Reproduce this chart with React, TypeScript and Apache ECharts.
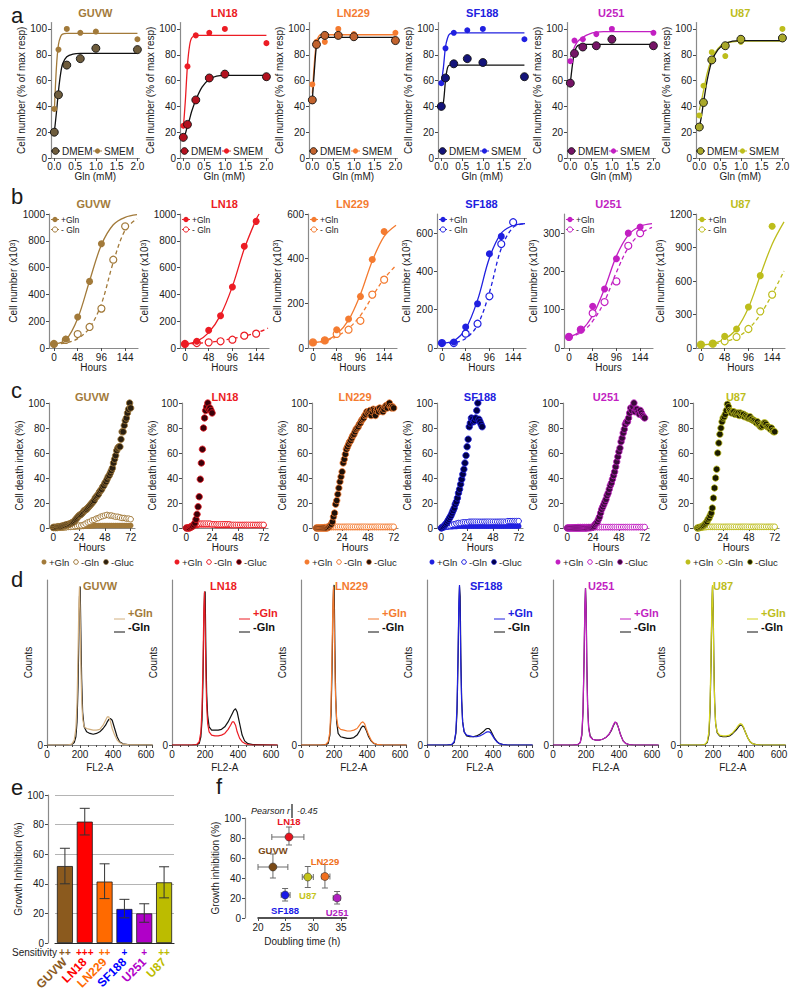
import React, { useEffect, useRef } from 'react';
import * as echarts from 'echarts';

const FONT = '"Liberation Sans", Arial, Helvetica, sans-serif';

// ---------- shared ----------
const cellLines = ['GUVW', 'LN18', 'LN229', 'SF188', 'U251', 'U87'];
const mainColors = ['#a27a3a', '#ec1c24', '#f47b30', '#2020e0', '#c21fc2', '#bdbd1c'];
const darkFillA = ['#6e5c3c', '#b3121f', '#c2632e', '#14147a', '#751466', '#a9a82a'];
const glucFill = ['#2a1f10', '#3c0008', '#1e1008', '#000048', '#3a0a3a', '#1c1c00'];
const histColors = ['#d2b080', '#ec1c24', '#f47b30', '#2020e0', '#c21fc2', '#d4d41c'];
const barColors = ['#8b5a1e', '#ff0000', '#ff6a00', '#0000ff', '#b000c8', '#bcbc00'];
const fColors = ['#7a4a16', '#e8141e', '#f07020', '#1a1ae6', '#b020c0', '#c4c41a'];
const sensitivity = ['++', '+++', '++', '+', '+', '++'];

// ---------- panel a ----------
const glnMM = [0, 0.1, 0.3, 0.625, 1, 2];
const aDMEM = [
  [20, 49, 72, 77, 85, 84],
  [16, 26, 45, 62, 65, 63],
  [45, 88, 95, 95, 94, 91],
  [40, 62, 73, 77, 74, 63],
  [58, 81, 86, 87, 92, 87],
  [24, 43, 76, 87, 92, 93],
];
const aSMEM = [
  [38, 84, 100, 97, 98, 92],
  [25, 71, 95, 97, 100, 89],
  [57, 90, 90, 100, 96, 97],
  [58, 85, 97, 99, 100, 92],
  [75, 91, 92, 96, 100, 97],
  [33, 56, 82, 79, 90, 100],
];
const aFitX = [0, 0.05, 0.1, 0.15, 0.2, 0.3, 0.45, 0.625, 0.8, 1, 1.5, 2];
const aFitDMEM = [
  [20, 35, 52, 65, 73, 78.5, 80.5, 81, 81, 81, 81, 81],
  [15, 19, 25, 30, 36, 45, 55, 61, 63.5, 64, 64, 64],
  [45, 68, 87, 92, 93.5, 93.5, 93.5, 93.5, 93.5, 93.5, 93.5, 93.5],
  [40, 43, 60, 70, 72, 72, 72, 72, 72, 72, 72, 72],
  [58, 72, 82, 86, 87.5, 88, 88, 88, 88, 88, 88, 88],
  [24, 32, 43, 53, 62, 75, 84, 88.5, 90.5, 91, 91, 91],
];
const aFitSMEM = [
  [36, 70, 88, 94, 96, 96.5, 96.5, 96.5, 96.5, 96.5, 96.5, 96.5],
  [23, 45, 72, 87, 93, 95, 95, 95, 95, 95, 95, 95],
  [50, 74, 90, 94, 95.5, 95.5, 95.5, 95.5, 95.5, 95.5, 95.5, 95.5],
  [58, 70, 86, 93, 96, 97, 97, 97, 97, 97, 97, 97],
  [78, 82, 86, 89, 91, 93.5, 96, 97.5, 98, 98, 98, 98],
  [37, 44, 52, 60, 67, 77, 85, 89, 90, 90.5, 90.5, 90.5],
];
const aXTicks = [0, 0.5, 1, 1.5, 2];
const aYTicks = [0, 20, 40, 60, 80, 100];

// ---------- panel b ----------
const hoursB = [0, 24, 48, 72, 96, 120, 144];
const bPlus = [
  [30, 67, 231, 497, 778, null, null],
  [30, 50, 132, 241, 455, 759, 945],
  [25, 34, 82, 130, 231, 396, 522],
  [26, 31, 110, 231, 492, 583, null],
  [29, 48, 109, 154, 233, 300, 316],
  [30, 39, 104, 170, 367, 648, 1090],
];
const bMinus = [
  [30, 60, 104, 157, 294, 659, 908],
  [30, 37, 42, 50, 62, 92, 107],
  [25, 34, 63, 82, 122, 239, 306],
  [26, 26, 75, 127, 270, 543, 657],
  [29, 48, 91, 120, 174, 267, 300],
  [30, 39, 60, 99, 170, 328, 478],
];
const bFitPlus = [
  [[0, 30], [24, 60], [48, 220], [72, 500], [96, 770], [120, 920], [144, 975], [168, 995]],
  [[0, 28], [24, 50], [48, 115], [72, 245], [96, 460], [120, 740], [144, 960], [150, 1000]],
  [[0, 25], [24, 32], [48, 62], [72, 125], [96, 240], [120, 390], [144, 500], [168, 550]],
  [[0, 25], [24, 38], [48, 100], [72, 250], [96, 470], [120, 600], [144, 640], [168, 650]],
  [[0, 28], [24, 45], [48, 85], [72, 155], [96, 240], [120, 295], [144, 318], [168, 325]],
  [[0, 28], [24, 40], [48, 80], [72, 170], [96, 360], [120, 650], [144, 930], [168, 1130]],
];
const bFitMinus = [
  [[0, 30], [24, 38], [48, 70], [72, 150], [96, 330], [120, 640], [144, 880], [168, 965]],
  [[0, 28], [48, 42], [96, 70], [144, 112], [168, 148]],
  [[0, 25], [24, 31], [48, 52], [72, 88], [96, 145], [120, 230], [144, 310], [168, 370]],
  [[0, 25], [24, 28], [48, 50], [72, 120], [96, 290], [120, 520], [144, 630], [168, 650]],
  [[0, 28], [24, 40], [48, 70], [72, 122], [96, 198], [120, 262], [144, 298], [168, 315]],
  [[0, 28], [24, 35], [48, 55], [72, 95], [96, 170], [120, 300], [144, 480], [168, 690]],
];
const bXTicks = [0, 48, 96, 144];
const bYMax = [1000, 1000, 600, 700, 350, 1200];
const bYTicks = [
  [0, 200, 400, 600, 800, 1000],
  [0, 200, 400, 600, 800, 1000],
  [0, 200, 400, 600],
  [0, 200, 400, 600],
  [0, 100, 200, 300],
  [0, 300, 600, 900, 1200],
];

// ---------- panel c ----------
const cGlucStep = 1; // hours between -Gluc readings
const cGlnStep = 2; // hours between +Gln / -Gln readings
const cGlucGUVW = [
  0.5, 0.5, 0.5, 0.5, 1, 1, 1, 1, 1.5, 1.5,
  2, 2, 2.5, 2.5, 3, 3, 3.5, 4, 4.5, 5,
  6, 7, 8, 9, 10, 10.5, 11, 12, 13, 14,
  14.5, 15, 16, 17, 18, 19, 20, 21, 22, 24,
  25, 26, 27, 29, 30, 31, 33, 34, 36, 37,
  39, 41, 42, 44, 46, 48, 52, 55, 58, 62,
  64, 65, 65, 71, 77, 77, 82, 86, 88, 92,
  95, 100, 96,
];
const cGlucLN18 = [0, 0, 0, 0, 0.5, 1, 1.5, 2.5, 4, 7, 11, 17, 25, 39, 52, 63, 80, 88, 94, 97, 100, 95, 96, 94, 92];
const cGlucLN229 = [
  0, 0, 0, 0, 0, 0, 0, 0, 0, 0, 0, 0.5,
  1, 2, 3, 5, 9, 12, 19, 22, 27, 32,
  37, 41, 45, 52, 55, 59, 63, 65, 67, 69,
  70, 72, 74, 75, 77, 79, 80, 81, 83, 84,
  86, 87, 88, 90, 91, 93, 92, 93, 94, 90,
  93, 95, 94, 90, 94, 95, 93, 96, 94, 95,
  93, 95, 97, 98, 96, 99, 100, 97, 96, 97,
  96,
];
const cGlucSF188 = [
  0, 0.5, 1, 2, 3, 4, 5.5, 7, 8.5, 10,
  12, 14, 16, 19, 21, 24, 28, 31, 35, 39,
  43, 47, 52, 58, 65, 71, 81, 84, 88, 87,
  85, 86, 88, 94, 100, 87, 85, 83, 81,
];
const cGlucU251 = [
  0, 0, 0, 0, 0, 0, 0, 0, 0, 0, 0, 0, 0, 0, 0, 0, 0, 0, 0, 0.2, 0.2, 0.3, 0.3, 0.5,
  0.8, 1.5, 3, 4, 5, 7, 9, 12, 15, 17,
  19, 21, 23, 26, 28, 31, 34, 36, 39, 42,
  45, 49, 53, 57, 61, 64, 69, 72, 76, 79,
  83, 85, 85, 88, 92, 96, 94, 97, 100, 93,
  95, 95, 93, 91, 94, 92, 90, 89, 88,
];
const cGlucU87 = [
  0, 0, 0.5, 0.5, 1, 1.5, 2, 3, 4, 5,
  7, 8, 10, 12, 16, 24, 32, 40, 47, 60,
  68, 75, 80, 85, 88, 89, 91, 94, 99, 97,
  94, 93, 92, 93, 93, 91, 92, 91, 92, 90,
  92, 91, 90, 91, 89, 90, 89, 88, 88, 89,
  87, 87, 86, 86, 85, 84, 85, 83, 82, 81,
  81, 82, 84, 84, 83, 81, 81, 80, 79, 80,
  78, 77, 77,
];
const cGluc = [cGlucGUVW, cGlucLN18, cGlucLN229, cGlucSF188, cGlucU251, cGlucU87];
const cPlus = [
  [0, 0, 0, 0, 0, 0.2, 0.3, 0.5, 0.5, 0.7, 0.8, 1, 1, 1.2, 1.3, 1.5, 1.5, 1.5, 1.7, 1.8, 2, 2, 2, 2, 2, 2, 2, 2, 2, 2, 2, 2, 2, 2, 2, 2, 2],
  [0, 0.5, 1, 1.5, 2, 2, 2.5, 2.5, 2.5, 2.5, 2.5, 2.5, 2.5, 2.5, 2, 2, 2, 2, 2, 2, 2, 2, 2, 2, 2, 2, 2, 2, 2, 2, 2, 2, 2, 2, 2, 2, 2],
  [0, 0, 0, 0.2, 0.2, 0.3, 0.3, 0.3, 0.3, 0.3, 0.3, 0.3, 0.3, 0.3, 0.3, 0.3, 0.3, 0.3, 0.3, 0.3, 0.3, 0.3, 0.3, 0.3, 0.3, 0.3, 0.3, 0.3, 0.3, 0.3, 0.3, 0.3, 0.3, 0.3, 0.3, 0.3, 0.3],
  [0, 0.3, 0.5, 0.8, 1, 1, 1.2, 1.2, 1.5, 1.5, 1.5, 1.5, 1.5, 1.5, 1.5, 1.5, 1.5, 1.5, 1.5, 1.5, 1.5, 1.5, 1.5, 1.5, 1.5, 1.5, 1.5, 1.5, 1.5, 1.5, 1.5, 1.5, 1.5, 1.5, 1.5, 1.5, 1.5],
  [0, 0, 0, 0.2, 0.2, 0.3, 0.3, 0.3, 0.3, 0.3, 0.3, 0.3, 0.3, 0.3, 0.3, 0.3, 0.3, 0.3, 0.3, 0.3, 0.3, 0.3, 0.3, 0.3, 0.3, 0.3, 0.3, 0.3, 0.3, 0.3, 0.3, 0.3, 0.3, 0.3, 0.3, 0.3, 0.3],
  [0, 0, 0.2, 0.3, 0.4, 0.5, 0.5, 0.5, 0.5, 0.5, 0.5, 0.5, 0.5, 0.5, 0.5, 0.5, 0.5, 0.5, 0.5, 0.5, 0.5, 0.5, 0.5, 0.5, 0.5, 0.5, 0.5, 0.5, 0.5, 0.5, 0.5, 0.5, 0.5, 0.5, 0.5, 0.5, 0.5],
];
const cMinus = [
  [0, 0, 0, 0.2, 0.3, 0.5, 0.7, 1, 1, 1.2, 1.5, 1.7, 2, 2, 2.5, 3.5, 4.5, 5, 6, 6.5, 7.5, 8, 9, 9.5, 10, 10.5, 10, 10, 9.5, 9, 9, 8.5, 8, 8, 7.5, 7.5, 7],
  [0, 0.5, 1.5, 2.5, 3, 3.5, 3.5, 3.5, 3.5, 3.5, 3.5, 3.5, 3, 3, 3, 3, 3, 3, 3, 3, 3, 2.5, 2.5, 2.5, 2.5, 2.5, 2.5, 2.5, 2.5, 2.5, 2.5, 2.5, 2.5, 2.5, 2.5, 2.5, 2.5],
  [0, 0, 0.2, 0.5, 0.8, 1, 1, 1, 1, 1, 1, 1, 1, 1, 1, 1, 1, 1, 1, 1, 1, 1, 1, 1, 1, 1, 1, 1, 1, 1, 1, 1, 1, 1, 1, 1, 1],
  [0, 0.5, 1, 1.5, 2, 2.5, 3, 3.5, 4, 4, 4.5, 4.5, 4.5, 5, 5, 5, 5, 5, 5, 5, 5, 5, 5, 5, 5, 5, 5, 5, 5, 5, 5, 5.5, 5.5, 5.5, 5.5, 5.5, 5.5],
  [0, 0, 0.2, 0.4, 0.6, 0.8, 0.8, 0.8, 0.8, 0.8, 0.8, 0.8, 0.8, 0.8, 0.8, 0.8, 0.8, 0.8, 0.8, 0.8, 0.8, 0.8, 0.8, 0.8, 0.8, 0.8, 0.8, 0.8, 0.8, 0.8, 0.8, 0.8, 0.8, 0.8, 0.8, 0.8, 0.8],
  [0, 0, 0.3, 0.6, 0.8, 1, 1, 1, 1, 1, 1, 1, 1, 1, 1, 1, 1, 1, 1, 1, 1, 1, 1, 1, 1, 1, 1, 1, 1, 1, 1, 1, 1, 1, 1, 1, 1],
];
const cXTicks = [0, 24, 48, 72];
const cYTicks = [0, 20, 40, 60, 80, 100];

// ---------- panel d ----------
const dFL2 = [0, 120, 150, 165, 175, 182, 188, 193, 197, 201, 205, 210, 216, 225, 240, 260, 280, 300, 320, 340, 355, 365, 375, 385, 395, 410, 425, 440, 460, 490, 640];
const dPlus = [
  [0, 0, 0.5, 3, 10, 25, 55, 85, 96, 80, 50, 28, 16, 11, 10, 9.5, 9, 9, 9.5, 12, 15, 17, 17, 14, 10, 6, 3, 1.5, 0.5, 0.2, 0],
  [0, 0, 0.3, 2, 8, 22, 50, 82, 93, 75, 45, 24, 13, 8, 6, 5.5, 5.5, 6, 7, 9.5, 12, 14, 14, 12, 8, 4, 2, 1, 0.3, 0, 0],
  [0, 0, 0.3, 2, 8, 24, 55, 85, 96, 78, 48, 27, 16, 11, 9.5, 9, 8.5, 8.5, 9, 10, 12, 13.5, 14, 13, 10, 6, 3, 1.2, 0.4, 0.1, 0],
  [0, 0, 0.3, 2, 8, 24, 55, 86, 97, 80, 48, 26, 14, 8, 6, 5.5, 5, 5, 5.5, 6.5, 7.5, 8, 8, 7.5, 6, 3.5, 1.8, 0.8, 0.3, 0, 0],
  [0, 0, 0.2, 1.5, 7, 22, 52, 84, 95, 80, 46, 22, 10, 5, 3.5, 3, 3, 3.5, 4.5, 6.5, 9.5, 12, 14, 13.5, 11, 6, 2.5, 1, 0.3, 0, 0],
  [0, 0, 0.3, 2, 8, 24, 55, 86, 97, 80, 48, 25, 13, 8, 6, 5.5, 5.5, 6, 7.5, 10, 12, 13, 12.5, 11, 8, 4.5, 2, 0.8, 0.3, 0, 0],
];
const dMinus = [
  [0, 0, 0.3, 1.5, 5, 14, 35, 65, 90, 96, 70, 40, 20, 11, 8, 7, 6.5, 7, 8, 10, 12, 14, 15.5, 16, 15, 10, 5, 2, 0.7, 0.2, 0],
  [0, 0, 0.2, 1, 5, 15, 40, 75, 92, 93, 60, 32, 18, 11, 9, 9, 9, 9.5, 11, 14, 17, 19, 21, 22, 20, 13, 6, 2.5, 0.8, 0.2, 0],
  [0, 0, 0.2, 1, 6, 18, 45, 78, 94, 97, 62, 30, 14, 7, 5, 4.5, 4, 4, 4.5, 6, 8.5, 10.5, 11.5, 11, 9, 5, 2.5, 1, 0.3, 0, 0],
  [0, 0, 0.2, 1.5, 7, 20, 50, 82, 96, 90, 55, 28, 14, 8, 5.5, 5, 5, 5.5, 6.5, 8, 9.5, 10, 10, 9, 7, 4, 2, 0.8, 0.3, 0, 0],
  [0, 0, 0.2, 1.5, 6, 20, 50, 82, 95, 84, 50, 24, 11, 5.5, 3.5, 3, 3, 3.5, 4.5, 6.5, 9, 11.5, 13.5, 13.5, 11, 6, 2.5, 1, 0.3, 0, 0],
  [0, 0, 0.2, 1.5, 6, 20, 50, 82, 96, 84, 52, 26, 13, 7.5, 5.5, 5, 5, 5.5, 7, 9, 11, 12, 12, 10.5, 8, 4.5, 2, 0.8, 0.3, 0, 0],
];
const dXLabels = [0, 200, 400, 600];

// ---------- panel e ----------
const eInhibition = [52, 82, 41.5, 23, 20, 41];
const eErrLow = [40, 73, 30, 17, 14, 30.5];
const eErrHigh = [64, 91, 53.5, 29.5, 26.5, 51.5];

// ---------- panel f ----------
const fDoubling = [22.7, 25.6, 32.1, 24.9, 34.3, 29.0];
const fInhibition = [51, 81, 41.5, 23, 20, 41];
const fDtLow = [20, 22.5, 31.5, 24.2, 33.6, 28.0];
const fDtHigh = [25.4, 28.3, 33.0, 25.8, 34.9, 30.0];
const fGiLow = [40, 73, 30, 17, 14, 30.5];
const fGiHigh = [64, 91, 53.5, 29.5, 26.5, 51.5];
const fXTicks = [20, 25, 30, 35];
const pearsonR = '-0.45';

// ---------- layout ----------
const rowA = { top: 22.5, height: 135.5, width: 88.5, lefts: [51, 180, 309, 438, 567, 696] };
const rowB = { top: 214, height: 134, width: 89, lefts: [49, 180, 308, 437, 564, 696] };
const rowC = { top: 403, height: 125, width: 86, lefts: [49, 182, 312, 437, 563, 693] };
const rowD = { top: 580, height: 165, width: 105.6, lefts: [47, 172, 301, 427, 553, 680] };
const dTitleOffsets = [36, 38, 34, 43, 35, 33];
const fLabelPos = ['top', 'top', 'top', 'bottom', 'bottom', 'bottom'];
const fLabelDist = [7, 6, 6, 6, 5, 9];

type AxisP = {
  gridIndex: number; min: number; max: number; ticks?: number[]; labels?: number[];
  fmt?: (v: number) => string; name?: string; nameGap?: number; vertical?: boolean;
  offset?: number; margin?: number; interval?: number; minor?: boolean;
  lineColor?: string; lineWidth?: number; rich?: any; showTicks?: boolean;
};

function mkAxis(p: AxisP): any {
  const fmt = p.fmt ?? ((v: number) => String(v));
  const ax: any = {
    type: 'value', gridIndex: p.gridIndex, min: p.min, max: p.max, offset: p.offset ?? 0,
    axisLine: { show: true, onZero: false, lineStyle: { color: p.lineColor ?? '#8a8a8a', width: p.lineWidth ?? 1.2 } },
    axisTick: { show: p.showTicks ?? true, length: 3, lineStyle: { color: '#4a4a4a', width: 1 } },
    axisLabel: {
      show: true, fontSize: 10, color: '#1a1a1a', fontFamily: FONT, margin: p.margin ?? 4, hideOverlap: false,
      formatter: (v: number) => fmt(v),
    },
    splitLine: { show: false },
    name: p.name ?? '', nameLocation: 'middle', nameGap: p.nameGap ?? 12, nameRotate: p.vertical ? 90 : 0,
    nameTextStyle: { fontSize: 10, color: '#1a1a1a', fontFamily: FONT },
  };
  if (p.ticks) ax.axisTick.customValues = p.ticks;
  if (p.labels ?? p.ticks) ax.axisLabel.customValues = p.labels ?? p.ticks;
  if (p.interval) ax.interval = p.interval;
  if (p.minor) ax.minorTick = { show: true, splitNumber: 4, length: 2, lineStyle: { color: '#4a4a4a' } };
  if (p.rich) ax.nameTextStyle.rich = p.rich;
  return ax;
}

const txt = (x: number, y: number, text: string, o: any = {}) => ({
  type: 'text', x, y, silent: true, z: 100,
  style: {
    text, fontFamily: FONT, fontSize: o.size ?? 10, fontWeight: o.weight ?? 'normal',
    fontStyle: o.style ?? 'normal', fill: o.color ?? '#1a1a1a',
    align: o.align ?? 'left', verticalAlign: o.va ?? 'middle',
  },
});
const circ = (cx: number, cy: number, r: number, fill: string, stroke?: string, lw?: number) => ({
  type: 'circle', shape: { cx, cy, r }, silent: true, z: 100,
  style: { fill, stroke: stroke ?? 'none', lineWidth: lw ?? 1 },
});
const seg = (x1: number, y1: number, x2: number, y2: number, stroke: string, lw = 1) => ({
  type: 'line', shape: { x1, y1, x2, y2 }, silent: true, z: 100,
  style: { stroke, lineWidth: lw },
});

function buildOption(): any {
  const grid: any[] = [];
  const xAxis: any[] = [];
  const yAxis: any[] = [];
  const series: any[] = [];
  const els: any[] = [];
  const addGrid = (left: number, top: number, width: number, height: number) => {
    grid.push({ left, top, width, height, containLabel: false, outerBoundsMode: 'none' });
    return grid.length - 1;
  };
  const addX = (a: any) => { xAxis.push(a); return xAxis.length - 1; };
  const addY = (a: any) => { yAxis.push(a); return yAxis.length - 1; };

  // panel letters
  els.push(txt(11, 15, 'a', { size: 22 }));
  els.push(txt(11, 196, 'b', { size: 22 }));
  els.push(txt(11, 390, 'c', { size: 22 }));
  els.push(txt(11, 579, 'd', { size: 22 }));
  els.push(txt(11, 787, 'e', { size: 22 }));
  els.push(txt(216, 786, 'f', { size: 22 }));

  // ---------- row a ----------
  cellLines.forEach((cl, i) => {
    const L = rowA.lefts[i];
    const g = addGrid(L, rowA.top, rowA.width, rowA.height);
    const xi = addX(mkAxis({ gridIndex: g, min: -0.08, max: 2.05, ticks: aXTicks, fmt: (v) => v.toFixed(1), name: 'Gln (mM)', nameGap: 12, margin: 3 }));
    const yi = addY(mkAxis({ gridIndex: g, min: 0, max: 105, ticks: aYTicks, name: 'Cell number (% of max resp)', nameGap: 21, vertical: true }));
    const base = { xAxisIndex: xi, yAxisIndex: yi, silent: true };
    series.push({ ...base, type: 'line', data: aFitX.map((x, j) => [x, aFitSMEM[i][j]]), symbol: 'none', smooth: 0.3, lineStyle: { color: mainColors[i], width: 1.3 }, z: 2 });
    series.push({ ...base, type: 'line', data: aFitX.map((x, j) => [x, aFitDMEM[i][j]]), symbol: 'none', smooth: 0.3, lineStyle: { color: '#111', width: 1.3 }, z: 3 });
    series.push({ ...base, type: 'scatter', data: glnMM.map((x, j) => [x, aSMEM[i][j]]), symbol: 'circle', symbolSize: 6, itemStyle: { color: mainColors[i], opacity: 1 }, z: 4 });
    series.push({ ...base, type: 'scatter', data: glnMM.map((x, j) => [x, aDMEM[i][j]]), symbol: 'circle', symbolSize: 8, itemStyle: { color: darkFillA[i], borderColor: '#111', borderWidth: 0.9, opacity: 1 }, z: 5 });
    els.push(txt(L + rowA.width / 2, 13, cl, { size: 11, weight: 'bold', color: mainColors[i], align: 'center' }));
    const ly = 151;
    els.push(seg(L + 0, ly, L + 9, ly, '#111', 1));
    els.push(circ(L + 4.5, ly, 3.4, darkFillA[i], '#111', 0.8));
    els.push(txt(L + 11, ly, 'DMEM', { size: 10 }));
    els.push(seg(L + 42, ly, L + 51, ly, mainColors[i], 1));
    els.push(circ(L + 46.5, ly, 2.6, mainColors[i]));
    els.push(txt(L + 53, ly, 'SMEM', { size: 10 }));
  });

  // ---------- row b ----------
  cellLines.forEach((cl, i) => {
    const L = rowB.lefts[i];
    const g = addGrid(L, rowB.top, rowB.width, rowB.height);
    const xi = addX(mkAxis({ gridIndex: g, min: -10, max: 170, ticks: bXTicks, name: 'Hours', nameGap: 14 }));
    const yi = addY(mkAxis({
      gridIndex: g, min: 0, max: bYMax[i], ticks: bYTicks[i], name: 'Cell number (x10{sup|3})', nameGap: 26, vertical: true,
      rich: { sup: { fontSize: 7, verticalAlign: 'top', fontFamily: FONT, color: '#1a1a1a' } },
    }));
    const base = { xAxisIndex: xi, yAxisIndex: yi, silent: true };
    series.push({ ...base, type: 'line', data: bFitMinus[i], symbol: 'none', smooth: 0.35, lineStyle: { color: mainColors[i], width: 1.3, type: [4, 3] }, z: 2 });
    series.push({ ...base, type: 'line', data: bFitPlus[i], symbol: 'none', smooth: 0.35, lineStyle: { color: mainColors[i], width: 1.3 }, z: 3 });
    series.push({ ...base, type: 'scatter', data: hoursB.map((h, j) => [h, bMinus[i][j]]).filter((d) => d[1] != null), symbol: 'circle', symbolSize: 7, itemStyle: { color: '#ffffff', borderColor: mainColors[i], borderWidth: 1.2, opacity: 1 }, z: 4 });
    series.push({ ...base, type: 'scatter', data: hoursB.map((h, j) => [h, bPlus[i][j]]).filter((d) => d[1] != null), symbol: 'circle', symbolSize: 7, itemStyle: { color: mainColors[i], opacity: 1 }, z: 5 });
    els.push(txt(L + rowB.width / 2, 204, cl, { size: 11, weight: 'bold', color: mainColors[i], align: 'center' }));
    els.push(seg(L + 2, 219.5, L + 10, 219.5, mainColors[i], 1));
    els.push(circ(L + 6, 219.5, 2.7, mainColors[i]));
    els.push(txt(L + 12, 219.5, '+Gln', { size: 8.5 }));
    els.push(seg(L + 2, 229.5, L + 10, 229.5, mainColors[i], 1));
    els.push(circ(L + 6, 229.5, 2.6, '#ffffff', mainColors[i], 1));
    els.push(txt(L + 12, 229.5, '- Gln', { size: 8.5 }));
  });

  // ---------- row c ----------
  cellLines.forEach((cl, i) => {
    const L = rowC.lefts[i];
    const g = addGrid(L, rowC.top, rowC.width, rowC.height);
    const xi = addX(mkAxis({ gridIndex: g, min: -4, max: 76, ticks: cXTicks, name: 'Hours', nameGap: 14 }));
    const yi = addY(mkAxis({ gridIndex: g, min: 0, max: 100, ticks: cYTicks, name: 'Cell death index (%)', nameGap: 22, vertical: true }));
    const base = { xAxisIndex: xi, yAxisIndex: yi, silent: true };
    series.push({ ...base, type: 'scatter', data: cPlus[i].map((v, j) => [j * cGlnStep, v]), symbol: 'circle', symbolSize: 5.5, itemStyle: { color: mainColors[i], opacity: 1 }, z: 2 });
    series.push({ ...base, type: 'scatter', data: cMinus[i].map((v, j) => [j * cGlnStep, v]), symbol: 'circle', symbolSize: 5.5, itemStyle: { color: '#ffffff', borderColor: mainColors[i], borderWidth: 1, opacity: 1 }, z: 3 });
    series.push({ ...base, type: 'scatter', data: cGluc[i].map((v, j) => [j * cGlucStep, v]), symbol: 'circle', symbolSize: 6.5, itemStyle: { color: glucFill[i], borderColor: mainColors[i], borderWidth: 0.8, opacity: 1 }, z: 4 });
    els.push(txt(L + rowC.width / 2, 397, cl, { size: 11, weight: 'bold', color: mainColors[i], align: 'center' }));
    const ly = 562;
    els.push(circ(L - 5, ly, 2.5, mainColors[i]));
    els.push(txt(L + 0, ly, '+Gln', { size: 9.5 }));
    els.push(circ(L + 27, ly, 2.3, '#ffffff', mainColors[i], 1));
    els.push(txt(L + 32, ly, '-Gln', { size: 9.5 }));
    els.push(circ(L + 57, ly, 2.5, glucFill[i], mainColors[i], 0.6));
    els.push(txt(L + 62, ly, '-Gluc', { size: 9.5 }));
  });

  // ---------- row d ----------
  cellLines.forEach((cl, i) => {
    const L = rowD.lefts[i];
    const g = addGrid(L, rowD.top, rowD.width, rowD.height);
    const xi = addX(mkAxis({ gridIndex: g, min: 0, max: 640, interval: 200, labels: dXLabels, minor: true, name: 'FL2-A', nameGap: 17 }));
    const yi = addY(mkAxis({ gridIndex: g, min: 0, max: 100, ticks: [0], name: 'Counts', nameGap: 4, vertical: true }));
    const base = { xAxisIndex: xi, yAxisIndex: yi, silent: true };
    series.push({ ...base, type: 'line', data: dFL2.map((x, j) => [x, dMinus[i][j]]), symbol: 'none', lineStyle: { color: '#111', width: 1.2 }, z: 2 });
    series.push({ ...base, type: 'line', data: dFL2.map((x, j) => [x, dPlus[i][j]]), symbol: 'none', lineStyle: { color: histColors[i], width: 1.2 }, z: 3 });
    els.push(txt(L + dTitleOffsets[i], 586, cl, { size: 11, weight: 'bold', color: mainColors[i] }));
    els.push(seg(L + 67, 619, L + 78, 619, histColors[i], 1));
    els.push(txt(L + 81, 613, '+Gln', { size: 11, weight: 'bold', color: mainColors[i] }));
    els.push(seg(L + 67, 632, L + 78, 632, '#111', 1));
    els.push(txt(L + 81, 627, '-Gln', { size: 11, weight: 'bold', color: '#111' }));
  });

  // ---------- panel e ----------
  const ge = addGrid(55, 795, 119, 148);
  const idxOf = (v: any) => cellLines.indexOf(String(v));
  const exMain = addX({
    type: 'category', gridIndex: ge, data: cellLines,
    axisLine: { show: true, onZero: false, lineStyle: { color: '#2a2a2a', width: 1.2 } },
    axisTick: { show: false }, axisLabel: { show: false }, splitLine: { show: false },
  });
  addX({
    type: 'category', gridIndex: ge, data: cellLines, position: 'bottom', offset: 4,
    axisLine: { show: false }, axisTick: { show: false }, splitLine: { show: false },
    axisLabel: {
      show: true, interval: 0, margin: 0, fontSize: 10, fontWeight: 'bold', fontFamily: FONT,
      formatter: (v: string) => sensitivity[idxOf(v)],
      color: (v: any) => barColors[idxOf(v)],
    },
  });
  addX({
    type: 'category', gridIndex: ge, data: cellLines, position: 'bottom', offset: 17,
    axisLine: { show: false }, axisTick: { show: false }, splitLine: { show: false },
    axisLabel: {
      show: true, interval: 0, margin: 0, rotate: 45, fontSize: 12, fontWeight: 'bold', fontFamily: FONT,
      color: (v: any) => barColors[idxOf(v)],
    },
  });
  els.push(txt(57, 952.5, 'Sensitivity', { size: 10, align: 'right' }));
  const eyAx = mkAxis({ gridIndex: ge, min: 0, max: 100, interval: 20, name: 'Growth Inhibition (%)', nameGap: 23, vertical: true, offset: 7 });
  eyAx.splitLine = { show: true, lineStyle: { color: '#b4b4b4', width: 1 } };
  const ey = addY(eyAx);
  series.push({
    type: 'bar', xAxisIndex: exMain, yAxisIndex: ey, barWidth: 16, silent: true, z: 2,
    data: eInhibition.map((v, k) => ({ value: v, itemStyle: { color: barColors[k], borderColor: '#1a1a1a', borderWidth: 0.8 } })),
  });
  series.push({
    type: 'custom', xAxisIndex: exMain, yAxisIndex: ey, silent: true, z: 5,
    data: eInhibition.map((_, k) => [k, eErrLow[k], eErrHigh[k]]),
    encode: { x: 0, y: [1, 2] },
    renderItem: (params: any, api: any) => {
      const x = api.value(0);
      const lo = api.coord([x, api.value(1)]);
      const hi = api.coord([x, api.value(2)]);
      const h = 5;
      const st = { stroke: '#333', lineWidth: 1 };
      return {
        type: 'group', children: [
          { type: 'line', shape: { x1: lo[0], y1: lo[1], x2: hi[0], y2: hi[1] }, style: st },
          { type: 'line', shape: { x1: lo[0] - h, y1: lo[1], x2: lo[0] + h, y2: lo[1] }, style: st },
          { type: 'line', shape: { x1: hi[0] - h, y1: hi[1], x2: hi[0] + h, y2: hi[1] }, style: st },
        ],
      };
    },
  });

  // ---------- panel f ----------
  const gf = addGrid(258, 818, 88.5, 100);
  const fx = addX(mkAxis({ gridIndex: gf, min: 20, max: 36, ticks: fXTicks, name: 'Doubling time (h)', nameGap: 18, lineColor: '#1a1a1a', lineWidth: 1.5 }));
  const fy = addY(mkAxis({ gridIndex: gf, min: 0, max: 100, interval: 20, name: 'Growth inhibition (%)', nameGap: 23, vertical: true, offset: 13, lineColor: '#8a8a8a' }));
  series.push({
    type: 'custom', xAxisIndex: fx, yAxisIndex: fy, silent: true, z: 3,
    data: fDoubling.map((d, k) => [d, fInhibition[k], fDtLow[k], fDtHigh[k], fGiLow[k], fGiHigh[k]]),
    encode: { x: [0, 2, 3], y: [1, 4, 5] },
    renderItem: (params: any, api: any) => {
      const c = api.coord([api.value(0), api.value(1)]);
      const xl = api.coord([api.value(2), api.value(1)]);
      const xh = api.coord([api.value(3), api.value(1)]);
      const yl = api.coord([api.value(0), api.value(4)]);
      const yh = api.coord([api.value(0), api.value(5)]);
      const st = { stroke: '#6a6a6a', lineWidth: 1 };
      const cap = 3;
      return {
        type: 'group', children: [
          { type: 'line', shape: { x1: xl[0], y1: c[1], x2: xh[0], y2: c[1] }, style: st },
          { type: 'line', shape: { x1: xl[0], y1: c[1] - cap, x2: xl[0], y2: c[1] + cap }, style: st },
          { type: 'line', shape: { x1: xh[0], y1: c[1] - cap, x2: xh[0], y2: c[1] + cap }, style: st },
          { type: 'line', shape: { x1: c[0], y1: yl[1], x2: c[0], y2: yh[1] }, style: st },
          { type: 'line', shape: { x1: c[0] - cap, y1: yl[1], x2: c[0] + cap, y2: yl[1] }, style: st },
          { type: 'line', shape: { x1: c[0] - cap, y1: yh[1], x2: c[0] + cap, y2: yh[1] }, style: st },
        ],
      };
    },
  });
  series.push({
    type: 'scatter', xAxisIndex: fx, yAxisIndex: fy, silent: true, z: 5, symbolSize: 8,
    data: fDoubling.map((d, k) => ({
      value: [d, fInhibition[k]],
      itemStyle: { color: fColors[k], borderColor: '#333', borderWidth: 0.6, opacity: 1 },
      label: {
        show: true, position: fLabelPos[k], distance: fLabelDist[k], formatter: cellLines[k],
        color: fColors[k], fontWeight: 'bold', fontSize: 9.5, fontFamily: FONT,
      },
    })),
  });
  els.push(txt(251, 811, 'Pearson r', { size: 9, style: 'italic' }));
  els.push(seg(292, 804, 292, 818, '#1a1a1a', 1.2));
  els.push(txt(297, 811, pearsonR, { size: 9, style: 'italic' }));

  return {
    animation: false,
    backgroundColor: '#ffffff',
    textStyle: { fontFamily: FONT },
    grid, xAxis, yAxis, series,
    graphic: { elements: els },
  };
}

export default function App() {
  const ref = useRef<HTMLDivElement>(null);
  useEffect(() => {
    document.body.style.margin = '0';
    document.body.style.overflow = 'hidden';
    const chart = echarts.init(ref.current!, undefined, { renderer: 'svg', width: 800, height: 991 });
    chart.setOption(buildOption());
    return () => chart.dispose();
  }, []);
  return <div ref={ref} style={{ position: 'absolute', left: 0, top: 0, width: 800, height: 991, background: '#fff' }} />;
}
